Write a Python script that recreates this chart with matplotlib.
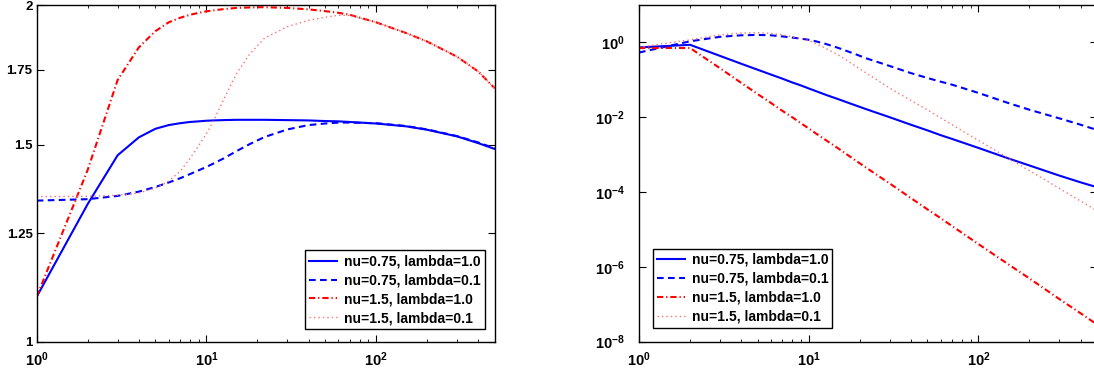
import matplotlib
matplotlib.use('Agg')
import matplotlib.pyplot as plt
import numpy as np
from matplotlib.ticker import FixedLocator, FixedFormatter, NullLocator, NullFormatter, LogLocator

plt.rcParams['font.family'] = ['Liberation Sans', 'DejaVu Sans']
plt.rcParams['font.weight'] = 'bold'
plt.rcParams['mathtext.fontset'] = 'custom'
plt.rcParams['mathtext.rm'] = 'Liberation Sans:bold'
plt.rcParams['mathtext.it'] = 'Liberation Sans:bold'
plt.rcParams['mathtext.bf'] = 'Liberation Sans:bold'

# sample points (shared by every curve)
x = [1, 2, 3, 4, 5, 6, 7, 8, 9, 10, 11, 12.6, 15, 18, 22, 30, 40, 50, 60, 70,
     100, 150, 200, 300, 400, 500]

labels = ['nu=0.75, lambda=1.0', 'nu=0.75, lambda=0.1',
          'nu=1.5, lambda=1.0', 'nu=1.5, lambda=0.1']

# left panel
left_a = [1.097, 1.328, 1.468, 1.523, 1.550, 1.562, 1.568, 1.572, 1.574, 1.576, 1.577, 1.578, 1.579,
          1.579, 1.579, 1.578, 1.577, 1.575, 1.574, 1.572, 1.567, 1.558, 1.547, 1.526, 1.505, 1.487]
left_b = [1.337, 1.341, 1.350, 1.362, 1.375, 1.388, 1.400, 1.412, 1.423, 1.433, 1.443, 1.458, 1.480,
          1.502, 1.524, 1.548, 1.562, 1.567, 1.570, 1.570, 1.568, 1.559, 1.548, 1.527, 1.507, 1.489]
left_c = [1.097, 1.425, 1.714, 1.833, 1.895, 1.930, 1.948, 1.960, 1.968, 1.974, 1.978, 1.983, 1.988,
          1.990, 1.991, 1.988, 1.982, 1.975, 1.968, 1.960, 1.930, 1.888, 1.855, 1.798, 1.744, 1.685]
left_d = [1.348, 1.349, 1.352, 1.358, 1.372, 1.392, 1.420, 1.458, 1.497, 1.534, 1.575, 1.645, 1.735,
          1.808, 1.868, 1.913, 1.938, 1.950, 1.958, 1.958, 1.930, 1.888, 1.855, 1.798, 1.744, 1.685]

# right panel, log10 of the values
right_a = [-0.134, -0.064, -0.36, -0.57, -0.73, -0.86, -0.97, -1.07, -1.15, -1.23, -1.30, -1.40, -1.52,
           -1.65, -1.79, -2.00, -2.20, -2.35, -2.48, -2.58, -2.82, -3.10, -3.29, -3.56, -3.74, -3.87]
right_b = [-0.27, 0.03, 0.15, 0.19, 0.20, 0.19, 0.16, 0.13, 0.10, 0.07, 0.03, -0.04, -0.15,
           -0.28, -0.43, -0.63, -0.82, -0.95, -1.05, -1.13, -1.35, -1.62, -1.80, -2.03, -2.20, -2.34]
right_c = [-0.15, -0.15, -0.69, -1.08, -1.38, -1.62, -1.83, -2.00, -2.16, -2.30, -2.43, -2.61, -2.84,
           -3.09, -3.36, -3.77, -4.16, -4.46, -4.70, -4.91, -5.39, -5.93, -6.31, -6.86, -7.24, -7.54]
right_d = [-0.13, 0.07, 0.20, 0.25, 0.26, 0.24, 0.20, 0.15, 0.10, 0.05, -0.03, -0.16, -0.34,
           -0.57, -0.83, -1.22, -1.55, -1.80, -2.02, -2.20, -2.62, -3.09, -3.43, -3.90, -4.24, -4.50]

left_yticks = [1, 1.25, 1.5, 1.75, 2]
left_yticklabels = ['1', '1.25', '1.5', '1.75', '2']
right_yticks = [1e-8, 1e-6, 1e-4, 1e-2, 1e0]

styles = [
    dict(color='#0000ff', ls='-', lw=1.5),
    dict(color='#0000ff', ls=(0, (3.2, 2.1)), lw=1.5),
    dict(color='#ff0000', ls=(0, (3.0, 1.4, 0.6, 1.4)), lw=1.5),
    dict(color='#ff7070', ls=(0, (1, 2.2)), lw=1.0),
]

W, H = 1094, 374
fig = plt.figure(figsize=(W / 100, H / 100), dpi=100)
aw = 458 / W
ah = (341.7 - 5) / H
ab = (H - 341.7) / H
ax1 = fig.add_axes([36.7 / W, ab, aw, ah])
ax2 = fig.add_axes([639 / W, ab, aw, ah])


def style_axes(ax):
    ax.set_xscale('log')
    ax.set_yscale('log')
    ax.set_xlim(1, 500)
    ax.xaxis.set_major_locator(LogLocator(base=10))
    ax.xaxis.set_minor_locator(LogLocator(base=10, subs=np.arange(2, 10)))
    ax.xaxis.set_minor_formatter(NullFormatter())
    ax.yaxis.set_minor_locator(NullLocator())
    ax.tick_params(which='both', direction='in', top=True, right=True)
    ax.tick_params(which='major', length=5, width=0.8)
    ax.tick_params(which='minor', length=2.5, width=0.6)
    ax.tick_params(axis='x', labelsize=10.5, pad=6)
    ax.tick_params(axis='y', labelsize=9.5, pad=3)
    for s in ax.spines.values():
        s.set_linewidth(1.0)


series_left = [left_a, left_b, left_c, left_d]
series_right = [right_a, right_b, right_c, right_d]

for vals, lab, st in zip(series_left, labels, styles):
    ax1.plot(x, vals, label=lab, **st)
for vals, lab, st in zip(series_right, labels, styles):
    ax2.plot(x, 10 ** np.array(vals), label=lab, **st)

style_axes(ax1)
ax1.set_ylim(1, 2)
ax1.yaxis.set_major_locator(FixedLocator(left_yticks))
ax1.yaxis.set_major_formatter(FixedFormatter(left_yticklabels))

style_axes(ax2)
ax2.set_ylim(1e-8, 1e1)
ax2.yaxis.set_major_locator(FixedLocator(right_yticks))
ax2.tick_params(axis='y', labelsize=10.5, pad=10)

leg_kw = dict(fontsize=10, frameon=True, fancybox=False, framealpha=1, edgecolor='black',
              borderaxespad=0, borderpad=0.3, labelspacing=0.35, handlelength=2.0,
              handletextpad=0.5)
l1 = ax1.legend(loc='lower right', bbox_to_anchor=(1 - 10 / 458, 12.4 / 336.7), **leg_kw)
l2 = ax2.legend(loc='lower left', bbox_to_anchor=(13.7 / 458, 14 / 336.7), **leg_kw)
for l in (l1, l2):
    l.get_frame().set_linewidth(1.0)

fig.savefig('out.png', dpi=100)
